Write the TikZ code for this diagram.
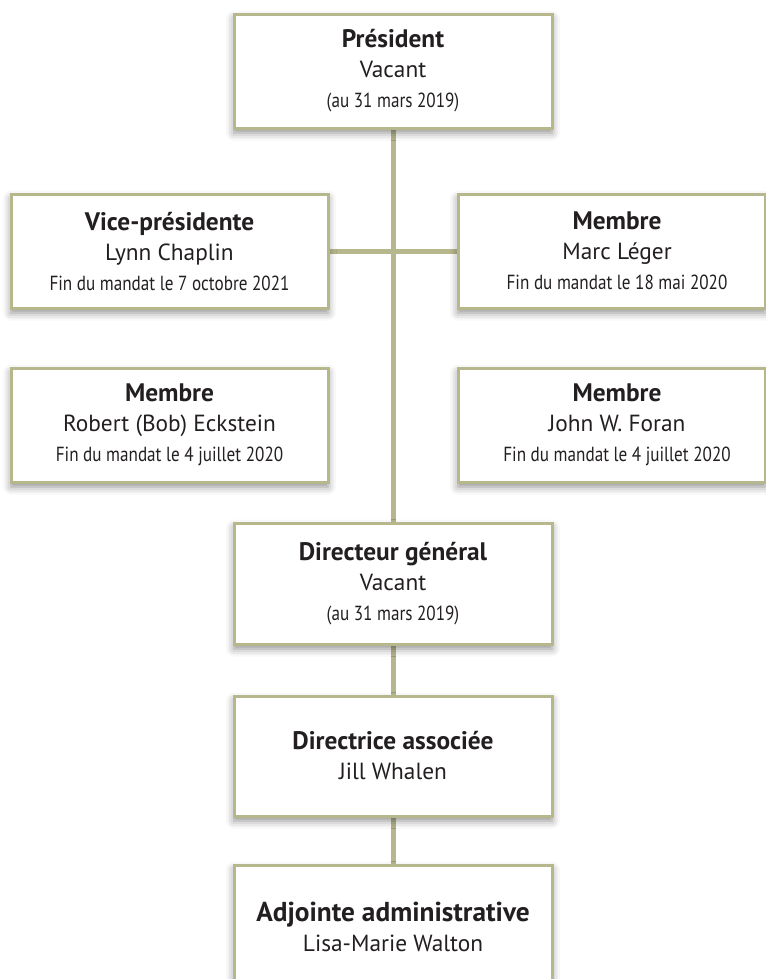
\documentclass[tikz,border=0pt]{standalone}
\usepackage{fontspec}
\setmainfont{PT Sans}
\newfontfamily\condfont[FakeStretch=0.84]{PT Sans}
\usetikzlibrary{shadows.blur}
\definecolor{olivec}{RGB}{183,183,141}
\definecolor{ink}{RGB}{35,31,32}
\pgfdeclarelayer{bg}
\pgfsetlayers{bg,main}
\newcommand{\ttl}[1]{{\fontsize{19}{22.5}\selectfont\bfseries #1}}
\newcommand{\dte}[1]{{\condfont\fontsize{15.3}{22.5}\selectfont #1}}
\begin{document}
\begin{tikzpicture}[x=0.75pt,y=-0.75pt,
  box/.style={draw=olivec, line width=2.25pt, fill=white, inner sep=0pt,
    align=center, text=ink, font=\fontsize{17.5}{22.5}\selectfont,
    blur shadow={shadow xshift=0pt, shadow yshift=-3.5pt, shadow blur radius=6pt, shadow opacity=45}},
  lbl/.style={inner sep=0pt, align=center, text=ink, font=\fontsize{17.5}{22.5}\selectfont},
  wide/.style={minimum width=238.5pt, minimum height=85.5pt},
  conn/.style={draw=olivec, line width=3.75pt}]
\useasboundingbox (0,0) rectangle (766,979);
\clip (0,0) rectangle (766,979);

\node[box, wide] (pres) at (393,71) {\ttl{Président}\\Vacant\\\dte{(au 31 mars 2019)}};
\node[box, minimum width=237.75pt, minimum height=85.5pt] (vp) at (169.5,251) {\ttl{Vice-présidente}\\Lynn Chaplin\\\dte{Fin du mandat le 7 octobre 2021}};
\node[box, minimum width=230.25pt, minimum height=85.5pt] (marc) at (611.5,251) {};
\node[lbl] (marct) at (617,251) {\ttl{Membre}\\Marc Léger\\\dte{Fin du mandat le 18 mai 2020}};
\node[box, minimum width=237.75pt, minimum height=85.5pt] (rob) at (169.5,425) {\ttl{Membre}\\Robert (Bob) Eckstein\\\dte{Fin du mandat le 4 juillet 2020}};
\node[box, minimum width=230.25pt, minimum height=85.5pt] (john) at (611.5,425) {};
\node[lbl] (johnt) at (617,425) {\ttl{Membre}\\John W. Foran\\\dte{Fin du mandat le 4 juillet 2020}};
\node[box, minimum width=238.5pt, minimum height=90.75pt] (dg) at (393,583.5) {\ttl{Directeur général}\\Vacant\\\dte{(au 31 mars 2019)}};
\node[box, minimum width=238.5pt, minimum height=90pt] (da) at (393,756) {\ttl{Directrice associée}\\Jill Whalen};
\node[box, minimum width=238.5pt, minimum height=93pt] (adj) at (393,927) {{\fontsize{20.5}{22.5}\selectfont\bfseries Adjointe administrative}\\Lisa-Marie Walton};

\begin{pgfonlayer}{bg}
\draw[conn] (pres.south) -- (dg.north);
\draw[conn] (vp.east) -- (marc.west);
\draw[conn] (dg.south) -- (da.north);
\draw[conn] (da.south) -- (adj.north);
\end{pgfonlayer}
\end{tikzpicture}
\end{document}
